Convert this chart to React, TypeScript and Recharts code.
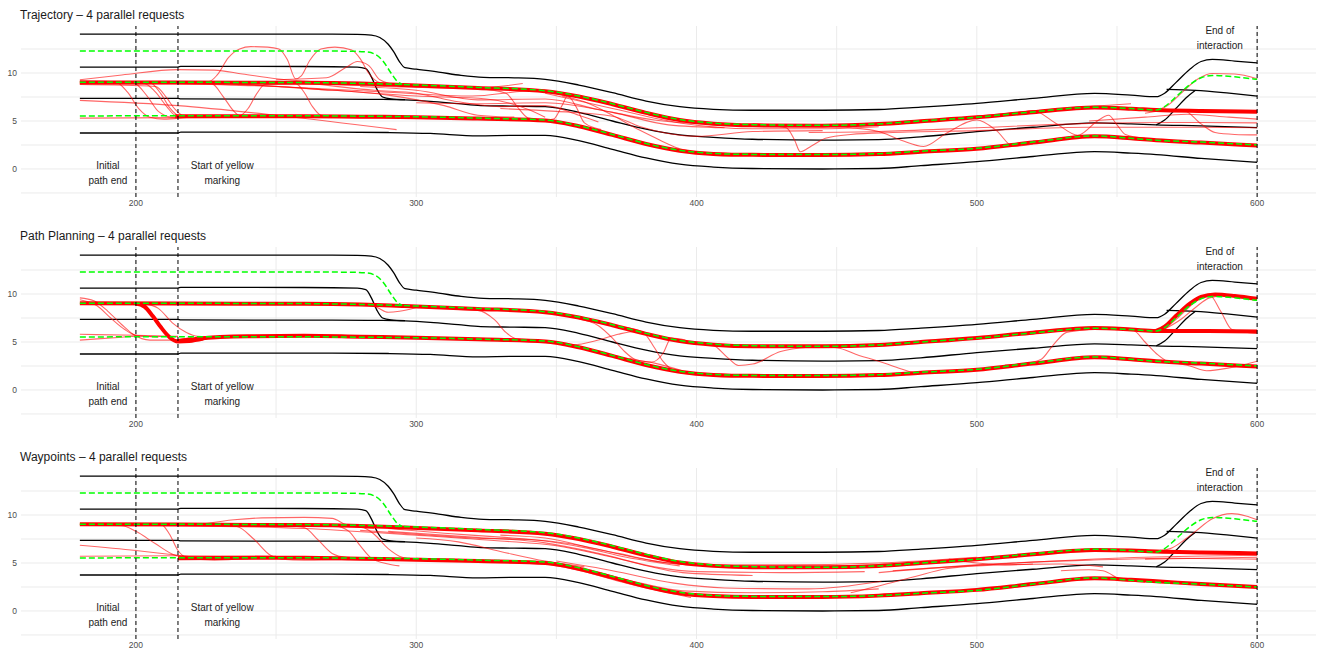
import { ComposedChart, Line, XAxis, YAxis, ReferenceLine, ReferenceDot } from "recharts";

type Pt = [number, number];

const xTicks = [200, 300, 400, 500, 600];
const yTicks = [0, 5, 10];
const xGrid = [200, 250, 300, 350, 400, 450, 500, 550, 600];
const yGrid = [-2.5, 0, 2.5, 5, 7.5, 10, 12.5];
const markerX = [200, 215, 600];

const notes = [
  { x: 190, y: -0.45, lines: ["Initial", "path end"] },
  { x: 230.8, y: -0.45, lines: ["Start of yellow", "marking"] },
  { x: 586.7, y: 13.6, lines: ["End of", "interaction"] },
];

// road edges / lane markings (same in every panel)
const roadTop: Pt[] = [[180, 14.06], [215, 14.06], [270, 14.05], [279, 14.03], [284, 13.95], [287, 13.7], [290, 13.0], [292, 12.2], [294, 11.2], [296, 10.55], [300, 10.4], [308, 10.1], [316, 9.75], [324, 9.55], [335, 9.5], [346, 9.34], [358, 8.75], [370, 7.95], [382, 7.08], [394, 6.49], [406, 6.22], [420, 6.12], [445, 6.12], [465, 6.2], [480, 6.45], [500, 6.84], [520, 7.35], [542, 7.88], [555, 7.7], [564, 7.53], [567, 7.9], [571, 9.0], [576, 10.4], [580, 11.2], [584, 11.42], [592, 11.25], [600, 11.05]];
const laneLine: Pt[] = [[180, 10.62], [215, 10.62], [216, 10.7], [260, 10.68], [279, 10.62], [282, 10.45], [284, 9.6], [286, 8.3], [288, 7.5], [291, 7.3], [296, 7.22]];
const roadMiddle: Pt[] = [[180, 7.36], [215, 7.36], [216, 7.3], [270, 7.27], [288, 7.25], [296, 7.2], [305, 7.05], [315, 6.8], [323, 6.6], [335, 6.55], [346, 6.5], [358, 5.9], [370, 5.0], [382, 4.15], [394, 3.55], [406, 3.3], [420, 3.1], [445, 3.0], [465, 3.05], [480, 3.35], [500, 3.9], [520, 4.35], [542, 4.8], [555, 4.7], [564, 4.6], [580, 4.5], [600, 4.3]];
const roadBottom: Pt[] = [[180, 3.75], [215, 3.75], [216, 3.85], [270, 3.85], [290, 3.8], [305, 3.7], [322, 3.45], [335, 3.5], [346, 3.5], [358, 2.95], [370, 2.05], [382, 1.15], [394, 0.5], [406, 0.2], [420, 0.05], [445, 0.0], [465, 0.05], [480, 0.35], [500, 0.76], [520, 1.3], [542, 1.8], [555, 1.65], [564, 1.5], [580, 1.1], [600, 0.7]];
const roadBranchLow: Pt[] = [[564, 4.6], [567, 5.1], [571, 6.3], [575, 7.5], [578, 8.2]];
const roadBranchHigh: Pt[] = [[567.7, 8.3], [578, 8.2], [590, 7.9], [600, 7.6]];

// reference lane centres (green dashed)
const greenLeft: Pt[] = [[180, 12.3], [215, 12.3], [275, 12.28], [282, 12.2], [285, 12.0], [288, 11.3], [291, 10.0], [293, 9.2], [295, 8.8]];
const greenUpper: Pt[] = [[180, 9.03], [215, 9.03], [260, 9.0], [280, 8.92], [295, 8.8], [322, 8.5], [346, 8.16], [358, 7.6], [370, 6.8], [382, 5.9], [394, 5.15], [406, 4.78], [420, 4.62], [445, 4.55], [465, 4.7], [480, 5.0], [500, 5.4], [520, 5.95], [542, 6.43], [555, 6.3], [564, 6.15], [567, 6.5], [571, 7.5], [576, 8.8], [580, 9.5], [584, 9.75], [592, 9.6], [600, 9.34]];
const greenLower: Pt[] = [[180, 5.52], [215, 5.55], [260, 5.55], [280, 5.5], [300, 5.45], [322, 5.3], [346, 5.1], [358, 4.5], [370, 3.6], [382, 2.65], [394, 1.95], [406, 1.62], [420, 1.52], [445, 1.5], [465, 1.6], [480, 1.85], [500, 2.15], [520, 2.8], [542, 3.44], [555, 3.2], [564, 3.0], [580, 2.8], [600, 2.5]];

// Trajectory panel
const p1ThickUpper: Pt[] = [[180, 9.0], [215, 9.0], [260, 8.98], [280, 8.9], [295, 8.75], [322, 8.45], [346, 8.1], [358, 7.55], [370, 6.75], [382, 5.85], [394, 5.1], [406, 4.72], [420, 4.55], [445, 4.5], [465, 4.68], [480, 4.98], [500, 5.38], [520, 5.92], [542, 6.4], [555, 6.28], [564, 6.15], [580, 6.05], [600, 5.97]];
const p1ThickLower: Pt[] = [[214, 5.5], [260, 5.5], [280, 5.45], [300, 5.4], [322, 5.25], [346, 5.05], [358, 4.45], [370, 3.55], [382, 2.6], [394, 1.9], [406, 1.57], [420, 1.47], [445, 1.45], [465, 1.55], [480, 1.8], [500, 2.1], [520, 2.75], [542, 3.4], [555, 3.2], [564, 3.0], [580, 2.75], [600, 2.45]];
const p1Thin: Pt[][] = [
  [[180, 9.1], [226, 9.1], [229, 9.8], [233, 11.6], [237, 12.5], [241, 12.75], [247, 12.7], [251, 12.5], [254, 11.4], [257, 9.4], [259, 9.7], [262, 11.3], [266, 12.5], [271, 12.7], [277, 12.4], [280, 11.5], [283, 10.0], [287, 9.0], [300, 8.7]],
  [[180, 8.9], [227, 8.9], [231, 7.6], [235, 6.0], [237, 5.55], [240, 6.3], [243, 7.8], [246, 8.8], [257, 8.9], [260, 8.0], [263, 6.5], [266, 5.6], [270, 5.45], [300, 5.35]],
  [[250, 9.3], [268, 9.5], [275, 10.6], [279, 11.2], [283, 10.8], [287, 9.3], [295, 8.6]],
  [[180, 9.3], [195, 9.8], [215, 10.35], [228, 10.3], [238, 9.9], [250, 9.4], [270, 9.0]],
  [[180, 9.0], [193, 9.0], [197, 8.0], [201, 6.3], [205, 5.4], [210, 5.2], [220, 5.4], [240, 5.5]],
  [[180, 8.9], [203, 8.9], [207, 8.0], [211, 6.5], [214, 5.6], [218, 5.45], [240, 5.5]],
  [[180, 9.1], [205, 9.0], [209, 7.8], [212, 6.4], [216, 5.5], [230, 5.5]],
  [[180, 8.8], [207, 8.6], [211, 7.4], [214, 6.2], [218, 5.4], [235, 5.45]],
  [[180, 9.2], [199, 9.0], [204, 7.6], [208, 6.0], [213, 5.4], [225, 5.5]],
  [[180, 7.15], [215, 6.6], [250, 5.6], [293, 4.1]],
  [[180, 5.3], [215, 5.35], [260, 5.4], [300, 5.3]],
  [[215, 8.9], [250, 8.6], [290, 8.0], [320, 7.6], [338, 8.1], [346, 8.2]],
  [[215, 9.0], [245, 8.7], [270, 8.2], [300, 7.6], [325, 7.3], [340, 6.2], [346, 5.4]],
  [[230, 9.0], [260, 8.4], [290, 7.7], [310, 6.6], [322, 5.6], [335, 5.4]],
  [[240, 9.1], [270, 8.8], [300, 8.5], [320, 8.4], [338, 8.9]],
  [[260, 9.0], [285, 8.2], [300, 7.9], [315, 7.0], [330, 6.5], [346, 6.6], [358, 5.6], [365, 4.9]],
  [[322, 8.4], [332, 7.9], [336, 6.5], [340, 5.3], [346, 5.1], [349, 5.2], [352, 6.6], [354, 7.6], [357, 6.5], [360, 4.8], [366, 4.1]],
  [[352, 7.6], [360, 7.0], [370, 5.6], [380, 4.0], [387, 3.0], [393, 2.2], [400, 1.7]],
  [[330, 6.3], [350, 6.0], [370, 5.5], [380, 4.4], [400, 3.4], [420, 3.9], [445, 4.0]],
  [[420, 4.7], [440, 4.5], [455, 4.3], [465, 3.9], [473, 3.0], [481, 2.35], [489, 3.7], [500, 5.1], [507, 4.0], [513, 2.35], [520, 2.6]],
  [[425, 4.5], [432, 4.3], [435, 3.0], [437, 1.8], [441, 2.4], [446, 3.2], [455, 3.6], [470, 3.8], [500, 4.0], [540, 4.35], [570, 4.35], [600, 4.3]],
  [[440, 3.8], [465, 3.9], [500, 4.3], [540, 4.75], [570, 4.85], [600, 4.8]],
  [[520, 2.9], [530, 3.2], [537, 3.6], [543, 5.0], [547, 5.6], [550, 4.6], [553, 3.6], [560, 3.2]],
  [[500, 5.5], [515, 5.9], [520, 6.1], [528, 4.8], [536, 3.5], [545, 3.4]],
  [[500, 5.5], [530, 6.3], [555, 6.8]],
  [[560, 5.8], [570, 6.2], [574, 6.1], [580, 4.7], [585, 3.8], [592, 3.6], [600, 3.55]],
  [[564, 6.1], [568, 6.6], [574, 8.2], [579, 9.4], [584, 9.95], [592, 9.9], [600, 9.4]],
  [[540, 5.0], [560, 5.4], [575, 5.7], [590, 5.4], [600, 5.2]],
  [[346, 7.9], [370, 6.3], [394, 4.8], [420, 4.2], [445, 4.2], [465, 4.4]],
  [[300, 6.9], [322, 6.8], [346, 6.9], [370, 5.9], [390, 4.6], [410, 4.3]],
  [[280, 8.6], [300, 8.2], [322, 7.2], [346, 7.3], [365, 6.2], [385, 5.1], [410, 4.6]],
];

// Path Planning panel
const p2ThickUpper: Pt[] = [[180, 9.05], [215, 9.0], [260, 8.98], [280, 8.9], [295, 8.75], [322, 8.45], [346, 8.1], [358, 7.55], [370, 6.75], [382, 5.85], [394, 5.1], [406, 4.72], [420, 4.55], [445, 4.55], [465, 4.7], [480, 5.0], [500, 5.42], [520, 5.97], [542, 6.45], [555, 6.3], [564, 6.15], [580, 6.15], [600, 6.1]];
const p2ThickRise: Pt[] = [[564, 6.15], [567, 6.6], [571, 7.7], [576, 9.0], [580, 9.7], [585, 9.95], [592, 9.8], [600, 9.5]];
const p2ThickChange: Pt[] = [[200, 9.0], [203, 8.7], [206, 7.7], [209, 6.5], [212, 5.5], [215, 5.05], [219, 5.1], [224, 5.35]];
const p2ThickLower: Pt[] = [[215, 5.1], [222, 5.35], [240, 5.6], [260, 5.65], [280, 5.55], [300, 5.45], [322, 5.28], [346, 5.05], [358, 4.45], [370, 3.55], [382, 2.6], [394, 1.9], [406, 1.57], [420, 1.47], [445, 1.45], [465, 1.55], [480, 1.8], [500, 2.1], [520, 2.75], [542, 3.4], [555, 3.2], [564, 3.0], [580, 2.75], [600, 2.45]];
const p2Thin: Pt[][] = [
  [[180, 9.6], [185, 9.3], [190, 8.2], [195, 6.8], [199, 5.8], [205, 5.2], [212, 5.2], [220, 5.5]],
  [[180, 9.4], [186, 8.8], [191, 7.5], [196, 6.3], [200, 5.7], [208, 5.5]],
  [[180, 5.2], [195, 5.5], [200, 5.6], [215, 5.55]],
  [[180, 5.8], [200, 5.7], [215, 5.6]],
  [[203, 9.0], [208, 8.5], [213, 7.0], [218, 6.0], [222, 5.6], [230, 5.55]],
  [[280, 8.9], [286, 8.6], [290, 8.1], [294, 8.2], [300, 8.6]],
  [[315, 8.4], [322, 8.3], [328, 7.3], [332, 6.0], [336, 5.3], [342, 5.15]],
  [[340, 5.2], [350, 4.85], [356, 4.7], [365, 5.2], [372, 5.8], [378, 6.1], [385, 5.6]],
  [[358, 7.4], [365, 6.7], [370, 5.4], [374, 4.1], [378, 3.2], [385, 2.8], [395, 2.0]],
  [[375, 6.5], [381, 6.0], [385, 4.4], [388, 3.0], [393, 1.9], [400, 1.6]],
  [[376, 3.3], [384, 2.9], [388, 3.8], [391, 5.4], [396, 5.2]],
  [[400, 4.9], [406, 4.65], [411, 3.4], [415, 2.55], [420, 2.7], [430, 4.0], [440, 4.45]],
  [[440, 4.55], [450, 4.4], [458, 3.6], [465, 3.0], [472, 2.3], [479, 1.75], [490, 1.9]],
  [[510, 2.6], [518, 2.8], [523, 3.2], [527, 4.6], [532, 6.0], [540, 6.3], [548, 6.4]],
  [[550, 6.45], [556, 6.2], [560, 5.0], [564, 3.8], [569, 2.9], [580, 2.8]],
  [[570, 2.9], [576, 2.5], [582, 2.0], [590, 2.3], [600, 3.0]],
  [[566, 6.1], [572, 7.6], [578, 9.2], [583, 9.9], [587, 8.2], [591, 6.3], [600, 5.9]],
  [[566, 6.2], [573, 7.4], [578, 8.6], [583, 9.6], [590, 9.9], [600, 9.5]],
];

// Waypoints panel
const p3ThickUpper: Pt[] = [[180, 9.05], [215, 9.0], [260, 8.95], [280, 8.85], [295, 8.7], [322, 8.4], [346, 8.05], [358, 7.5], [370, 6.7], [382, 5.8], [394, 5.05], [406, 4.7], [420, 4.55], [445, 4.55], [465, 4.7], [480, 5.0], [500, 5.4], [520, 5.9], [542, 6.35], [555, 6.3], [564, 6.2], [580, 6.1], [600, 6.0]];
const p3ThickLower: Pt[] = [[215, 5.5], [260, 5.55], [280, 5.45], [300, 5.35], [322, 5.2], [346, 5.0], [358, 4.4], [370, 3.5], [382, 2.55], [394, 1.85], [406, 1.55], [420, 1.45], [445, 1.45], [465, 1.6], [480, 1.85], [500, 2.2], [520, 2.8], [542, 3.4], [555, 3.25], [564, 3.1], [580, 2.8], [600, 2.5]];
const p3Thin: Pt[][] = [
  [[180, 9.0], [195, 8.9], [200, 8.3], [207, 7.0], [214, 5.8], [220, 5.5], [235, 5.45]],
  [[180, 9.1], [209, 9.0], [212, 8.0], [215, 6.3], [218, 5.6], [228, 5.3], [240, 5.5]],
  [[180, 6.85], [200, 6.3], [215, 5.8], [225, 5.5], [240, 5.45]],
  [[180, 5.7], [215, 5.75], [250, 5.7]],
  [[225, 9.1], [235, 9.5], [245, 9.7], [260, 9.75], [270, 9.65], [275, 9.0], [285, 8.6]],
  [[225, 9.0], [236, 8.8], [242, 7.5], [248, 5.8], [252, 5.4], [260, 5.3], [280, 5.4]],
  [[250, 9.0], [260, 8.7], [265, 7.4], [270, 6.0], [275, 5.6], [290, 5.4]],
  [[270, 9.0], [276, 8.3], [280, 6.8], [284, 5.5], [290, 4.9], [294, 4.7]],
  [[280, 8.9], [285, 8.0], [290, 6.5], [295, 5.6], [305, 5.2]],
  [[215, 8.9], [260, 8.6], [300, 7.9], [330, 7.3], [350, 6.8], [370, 5.6], [395, 4.0], [420, 3.7]],
  [[290, 8.6], [310, 8.1], [330, 7.7], [346, 7.3], [360, 6.6], [375, 5.6], [394, 4.7]],
  [[290, 8.3], [320, 7.7], [346, 7.1], [365, 6.0], [385, 4.6], [400, 4.1], [430, 4.0], [460, 4.1]],
  [[300, 7.6], [315, 7.2], [330, 6.2], [346, 5.2], [360, 4.6]],
  [[300, 5.5], [330, 5.2], [346, 4.9], [360, 4.1], [375, 2.9], [390, 1.9], [398, 1.4]],
  [[350, 5.0], [365, 4.0], [380, 2.9], [395, 2.1], [420, 1.9], [445, 2.0], [465, 2.3]],
  [[330, 7.9], [346, 7.6], [365, 6.4], [385, 5.2], [400, 4.8], [430, 4.8], [465, 5.0], [500, 5.6]],
  [[465, 4.0], [500, 4.8], [540, 5.3], [570, 5.5], [600, 5.4]],
  [[470, 4.2], [520, 5.1], [560, 5.6], [600, 5.8]],
  [[455, 1.9], [465, 2.6], [478, 3.6], [489, 4.4], [500, 4.7], [530, 4.9], [545, 4.6]],
  [[490, 5.4], [500, 5.0], [510, 4.8], [520, 4.9]],
  [[530, 4.2], [540, 4.3], [545, 4.2], [552, 3.2], [560, 3.0]],
  [[560, 5.4], [580, 5.5], [600, 5.6]],
  [[562, 6.2], [569, 6.5], [574, 7.4], [578, 8.3], [584, 9.6], [591, 10.15], [596, 9.9], [600, 9.5]],
  [[280, 8.4], [300, 8.0], [320, 7.6], [340, 7.45], [355, 7.0], [372, 6.0], [390, 5.0], [410, 4.7]],
  [[350, 5.2], [370, 4.2], [392, 2.9], [410, 2.4], [440, 2.3], [466, 3.1]],
];

const roadLines = [roadTop, laneLine, roadMiddle, roadBottom, roadBranchLow, roadBranchHigh];
const greenLines = [greenLeft, greenUpper, greenLower];

const panels = [
  { title: "Trajectory – 4 parallel requests", thin: p1Thin, thick: [p1ThickUpper, p1ThickLower] },
  { title: "Path Planning – 4 parallel requests", thin: p2Thin, thick: [p2ThickUpper, p2ThickRise, p2ThickChange, p2ThickLower] },
  { title: "Waypoints – 4 parallel requests", thin: p3Thin, thick: [p3ThickUpper, p3ThickLower] },
];

const toRows = (pts: Pt[]) => pts.map(([x, y]) => ({ x, y }));

function Note({ cx, cy, lines }: { cx?: number; cy?: number; lines: string[] }) {
  if (cx == null || cy == null) return null;
  return (
    <text x={cx} y={cy} textAnchor="middle" fontSize={10} fill="#222">
      <tspan x={cx} y={cy - 4}>{lines[0]}</tspan>
      <tspan x={cx} y={cy + 11}>{lines[1]}</tspan>
    </text>
  );
}

function Panel({ title, thin, thick }: { title: string; thin: Pt[][]; thick: Pt[][] }) {
  const tick = { fontSize: 8.5, fill: "#4d4d4d" };
  return (
    <div style={{ position: "relative", height: 221 }}>
      <div style={{ position: "absolute", left: 20, top: 8, fontSize: 12, lineHeight: "14px", color: "#1a1a1a" }}>{title}</div>
      <ComposedChart width={1323} height={212} margin={{ top: 26, right: 7, bottom: 0, left: 0 }}>
        <XAxis type="number" dataKey="x" domain={[159, 621]} ticks={xTicks} allowDataOverflow axisLine={false} tickLine={false} tickSize={0} tickMargin={3} height={15} tick={tick} />
        <YAxis type="number" dataKey="y" domain={[-2.92, 14.9]} ticks={yTicks} allowDataOverflow axisLine={false} tickLine={false} tickSize={0} tickMargin={4} width={21} tick={tick} />
        {xGrid.map((v) => <ReferenceLine key={"gx" + v} x={v} stroke="#ebebeb" strokeWidth={1} />)}
        {yGrid.map((v) => <ReferenceLine key={"gy" + v} y={v} stroke="#ebebeb" strokeWidth={1} />)}
        {roadLines.map((pts, i) => (
          <Line key={"road" + i} data={toRows(pts)} dataKey="y" type="monotone" dot={false} activeDot={false} stroke="#000" strokeWidth={1.3} isAnimationActive={false} />
        ))}
        {thin.map((pts, i) => (
          <Line key={"thin" + i} data={toRows(pts)} dataKey="y" type="monotone" dot={false} activeDot={false} stroke="#ff0000" strokeOpacity={0.6} strokeWidth={1.1} isAnimationActive={false} />
        ))}
        {thick.map((pts, i) => (
          <Line key={"thick" + i} data={toRows(pts)} dataKey="y" type="monotone" dot={false} activeDot={false} stroke="#ff0000" strokeWidth={4} isAnimationActive={false} />
        ))}
        {greenLines.map((pts, i) => (
          <Line key={"green" + i} data={toRows(pts)} dataKey="y" type="monotone" dot={false} activeDot={false} stroke="#00ff00" strokeWidth={1.5} strokeDasharray="6 3" isAnimationActive={false} />
        ))}
        {markerX.map((v) => <ReferenceLine key={"m" + v} x={v} stroke="#000" strokeWidth={1} strokeDasharray="4 3" />)}
        {notes.map((n, i) => (
          <ReferenceDot key={"n" + i} x={n.x} y={n.y} r={0} shape={(p: any) => <Note cx={p.cx} cy={p.cy} lines={n.lines} />} />
        ))}
      </ComposedChart>
    </div>
  );
}

export default function App() {
  return (
    <div style={{ position: "absolute", left: 0, top: 0, width: 1323, height: 652, overflow: "hidden", background: "#fff", fontFamily: "'Liberation Sans', Arial, sans-serif" }}>
      {panels.map((p) => (
        <Panel key={p.title} title={p.title} thin={p.thin} thick={p.thick} />
      ))}
    </div>
  );
}
